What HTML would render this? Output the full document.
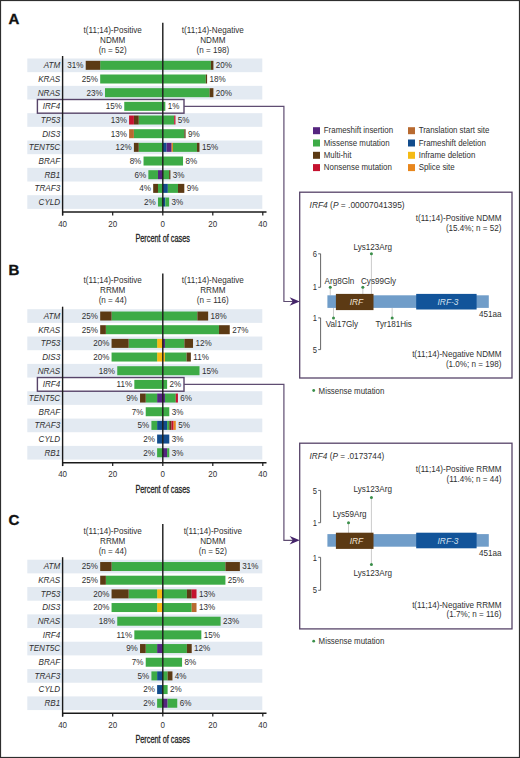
<!DOCTYPE html>
<html><head><meta charset="utf-8"><style>
html,body{margin:0;padding:0;background:#fff;}
body{width:520px;height:758px;overflow:hidden;}
svg{display:block;font-family:"Liberation Sans", sans-serif;}

</style></head><body>
<svg width="520" height="758" viewBox="0 0 520 758">
<rect x="0" y="0" width="520" height="758" fill="#fff"/>
<text x="8.4" y="23.80" font-size="15" font-weight="bold" fill="#111" stroke="#111" stroke-width="0.35">A</text>
<text x="112.70" y="32.60" font-size="8.75" text-anchor="middle" fill="#303030" textLength="58.33" lengthAdjust="spacingAndGlyphs">t(11;14)-Positive</text>
<text x="112.70" y="42.60" font-size="8.75" text-anchor="middle" fill="#303030" textLength="25.19" lengthAdjust="spacingAndGlyphs">NDMM</text>
<text x="112.70" y="52.60" font-size="8.75" text-anchor="middle" fill="#303030" textLength="28.12" lengthAdjust="spacingAndGlyphs">(n = 52)</text>
<text x="212.80" y="32.60" font-size="8.75" text-anchor="middle" fill="#303030" textLength="61.94" lengthAdjust="spacingAndGlyphs">t(11;14)-Negative</text>
<text x="212.80" y="42.60" font-size="8.75" text-anchor="middle" fill="#303030" textLength="25.19" lengthAdjust="spacingAndGlyphs">NDMM</text>
<text x="212.80" y="52.60" font-size="8.75" text-anchor="middle" fill="#303030" textLength="32.62" lengthAdjust="spacingAndGlyphs">(n = 198)</text>
<rect x="27.30" y="58.50" width="235.00" height="13.67" fill="#e3eaf2"/>
<rect x="27.30" y="85.84" width="235.00" height="13.67" fill="#e3eaf2"/>
<rect x="27.30" y="113.18" width="235.00" height="13.67" fill="#e3eaf2"/>
<rect x="27.30" y="140.52" width="235.00" height="13.67" fill="#e3eaf2"/>
<rect x="27.30" y="167.86" width="235.00" height="13.67" fill="#e3eaf2"/>
<rect x="27.30" y="195.20" width="235.00" height="13.67" fill="#e3eaf2"/>
<rect x="100.18" y="60.83" width="62.62" height="9.00" fill="#3dab46"/>
<rect x="85.72" y="60.83" width="14.45" height="9.00" fill="#5c3a14"/>
<text x="83.52" y="68.23" font-size="8.75" text-anchor="end" fill="#303030" textLength="16.20" lengthAdjust="spacingAndGlyphs">31%</text>
<rect x="162.80" y="60.83" width="48.08" height="9.00" fill="#3dab46"/>
<rect x="210.88" y="60.83" width="2.53" height="9.00" fill="#5c3a14"/>
<text x="215.81" y="68.23" font-size="8.75" text-anchor="start" fill="#303030" textLength="16.20" lengthAdjust="spacingAndGlyphs">20%</text>
<text x="60.20" y="68.23" font-size="8.75" text-anchor="end" fill="#303030" textLength="16.48" lengthAdjust="spacingAndGlyphs" font-style="italic">ATM</text>
<rect x="100.18" y="74.50" width="62.62" height="9.00" fill="#3dab46"/>
<text x="97.98" y="81.91" font-size="8.75" text-anchor="end" fill="#303030" textLength="16.20" lengthAdjust="spacingAndGlyphs">25%</text>
<rect x="162.80" y="74.50" width="43.02" height="9.00" fill="#3dab46"/>
<rect x="205.82" y="74.50" width="1.27" height="9.00" fill="#5c3a14"/>
<text x="209.48" y="81.91" font-size="8.75" text-anchor="start" fill="#303030" textLength="16.20" lengthAdjust="spacingAndGlyphs">18%</text>
<text x="60.20" y="81.91" font-size="8.75" text-anchor="end" fill="#303030" textLength="22.05" lengthAdjust="spacingAndGlyphs" font-style="italic">KRAS</text>
<rect x="104.99" y="88.17" width="57.81" height="9.00" fill="#3dab46"/>
<text x="102.79" y="95.58" font-size="8.75" text-anchor="end" fill="#303030" textLength="16.20" lengthAdjust="spacingAndGlyphs">23%</text>
<rect x="162.80" y="88.17" width="46.81" height="9.00" fill="#3dab46"/>
<rect x="209.61" y="88.17" width="3.80" height="9.00" fill="#5c3a14"/>
<text x="215.81" y="95.58" font-size="8.75" text-anchor="start" fill="#303030" textLength="16.20" lengthAdjust="spacingAndGlyphs">20%</text>
<text x="60.20" y="95.58" font-size="8.75" text-anchor="end" fill="#303030" textLength="22.50" lengthAdjust="spacingAndGlyphs" font-style="italic">NRAS</text>
<rect x="124.26" y="101.84" width="38.54" height="9.00" fill="#3dab46"/>
<text x="122.06" y="109.24" font-size="8.75" text-anchor="end" fill="#303030" textLength="16.20" lengthAdjust="spacingAndGlyphs">15%</text>
<rect x="162.80" y="101.84" width="2.53" height="9.00" fill="#3dab46"/>
<text x="167.73" y="109.24" font-size="8.75" text-anchor="start" fill="#303030" textLength="11.70" lengthAdjust="spacingAndGlyphs">1%</text>
<text x="60.20" y="109.24" font-size="8.75" text-anchor="end" fill="#303030" textLength="17.55" lengthAdjust="spacingAndGlyphs" font-style="italic">IRF4</text>
<rect x="138.71" y="115.52" width="24.09" height="9.00" fill="#3dab46"/>
<rect x="133.90" y="115.52" width="4.82" height="9.00" fill="#5c3a14"/>
<rect x="129.08" y="115.52" width="4.82" height="9.00" fill="#c5122f"/>
<text x="126.88" y="122.92" font-size="8.75" text-anchor="end" fill="#303030" textLength="16.20" lengthAdjust="spacingAndGlyphs">13%</text>
<rect x="162.80" y="115.52" width="11.39" height="9.00" fill="#3dab46"/>
<rect x="174.19" y="115.52" width="1.27" height="9.00" fill="#c5122f"/>
<text x="177.85" y="122.92" font-size="8.75" text-anchor="start" fill="#303030" textLength="11.70" lengthAdjust="spacingAndGlyphs">5%</text>
<text x="60.20" y="122.92" font-size="8.75" text-anchor="end" fill="#303030" textLength="19.36" lengthAdjust="spacingAndGlyphs" font-style="italic">TP53</text>
<rect x="133.90" y="129.19" width="28.90" height="9.00" fill="#3dab46"/>
<rect x="129.08" y="129.19" width="4.82" height="9.00" fill="#b86a30"/>
<text x="126.88" y="136.59" font-size="8.75" text-anchor="end" fill="#303030" textLength="16.20" lengthAdjust="spacingAndGlyphs">13%</text>
<rect x="162.80" y="129.19" width="21.51" height="9.00" fill="#3dab46"/>
<rect x="184.31" y="129.19" width="1.27" height="9.00" fill="#5c3a14"/>
<text x="187.97" y="136.59" font-size="8.75" text-anchor="start" fill="#303030" textLength="11.70" lengthAdjust="spacingAndGlyphs">9%</text>
<text x="60.20" y="136.59" font-size="8.75" text-anchor="end" fill="#303030" textLength="18.00" lengthAdjust="spacingAndGlyphs" font-style="italic">DIS3</text>
<rect x="138.71" y="142.85" width="24.09" height="9.00" fill="#3dab46"/>
<rect x="133.90" y="142.85" width="4.82" height="9.00" fill="#5c3a14"/>
<text x="131.70" y="150.25" font-size="8.75" text-anchor="end" fill="#303030" textLength="16.20" lengthAdjust="spacingAndGlyphs">12%</text>
<rect x="162.80" y="142.85" width="3.80" height="9.00" fill="#124c8c"/>
<rect x="166.60" y="142.85" width="5.06" height="9.00" fill="#55257f"/>
<rect x="171.66" y="142.85" width="1.27" height="9.00" fill="#e8861c"/>
<rect x="172.92" y="142.85" width="24.04" height="9.00" fill="#3dab46"/>
<rect x="196.96" y="142.85" width="2.53" height="9.00" fill="#5c3a14"/>
<text x="201.89" y="150.25" font-size="8.75" text-anchor="start" fill="#303030" textLength="16.20" lengthAdjust="spacingAndGlyphs">15%</text>
<text x="60.20" y="150.25" font-size="8.75" text-anchor="end" fill="#303030" textLength="31.48" lengthAdjust="spacingAndGlyphs" font-style="italic">TENT5C</text>
<rect x="143.53" y="156.53" width="19.27" height="9.00" fill="#3dab46"/>
<text x="141.33" y="163.93" font-size="8.75" text-anchor="end" fill="#303030" textLength="11.70" lengthAdjust="spacingAndGlyphs">8%</text>
<rect x="162.80" y="156.53" width="20.24" height="9.00" fill="#3dab46"/>
<text x="185.44" y="163.93" font-size="8.75" text-anchor="start" fill="#303030" textLength="11.70" lengthAdjust="spacingAndGlyphs">8%</text>
<text x="60.20" y="163.93" font-size="8.75" text-anchor="end" fill="#303030" textLength="21.59" lengthAdjust="spacingAndGlyphs" font-style="italic">BRAF</text>
<rect x="157.98" y="170.20" width="4.82" height="9.00" fill="#55257f"/>
<rect x="148.35" y="170.20" width="9.63" height="9.00" fill="#3dab46"/>
<text x="146.15" y="177.60" font-size="8.75" text-anchor="end" fill="#303030" textLength="11.70" lengthAdjust="spacingAndGlyphs">6%</text>
<rect x="162.80" y="170.20" width="6.33" height="9.00" fill="#3dab46"/>
<rect x="169.13" y="170.20" width="1.27" height="9.00" fill="#5c3a14"/>
<text x="172.79" y="177.60" font-size="8.75" text-anchor="start" fill="#303030" textLength="11.70" lengthAdjust="spacingAndGlyphs">3%</text>
<text x="60.20" y="177.60" font-size="8.75" text-anchor="end" fill="#303030" textLength="15.75" lengthAdjust="spacingAndGlyphs" font-style="italic">RB1</text>
<rect x="157.98" y="183.87" width="4.82" height="9.00" fill="#3dab46"/>
<rect x="153.17" y="183.87" width="4.82" height="9.00" fill="#5c3a14"/>
<text x="150.97" y="191.27" font-size="8.75" text-anchor="end" fill="#303030" textLength="11.70" lengthAdjust="spacingAndGlyphs">4%</text>
<rect x="162.80" y="183.87" width="5.06" height="9.00" fill="#124c8c"/>
<rect x="167.86" y="183.87" width="10.12" height="9.00" fill="#3dab46"/>
<rect x="177.98" y="183.87" width="6.33" height="9.00" fill="#5c3a14"/>
<text x="186.71" y="191.27" font-size="8.75" text-anchor="start" fill="#303030" textLength="11.70" lengthAdjust="spacingAndGlyphs">9%</text>
<text x="60.20" y="191.27" font-size="8.75" text-anchor="end" fill="#303030" textLength="25.64" lengthAdjust="spacingAndGlyphs" font-style="italic">TRAF3</text>
<rect x="157.98" y="197.53" width="4.82" height="9.00" fill="#3dab46"/>
<text x="155.78" y="204.94" font-size="8.75" text-anchor="end" fill="#303030" textLength="11.70" lengthAdjust="spacingAndGlyphs">2%</text>
<rect x="162.80" y="197.53" width="2.53" height="9.00" fill="#124c8c"/>
<rect x="165.33" y="197.53" width="3.80" height="9.00" fill="#3dab46"/>
<text x="171.53" y="204.94" font-size="8.75" text-anchor="start" fill="#303030" textLength="11.70" lengthAdjust="spacingAndGlyphs">3%</text>
<text x="60.20" y="204.94" font-size="8.75" text-anchor="end" fill="#303030" textLength="21.59" lengthAdjust="spacingAndGlyphs" font-style="italic">CYLD</text>
<rect x="37.4" y="99.51" width="146.60" height="13.67" fill="none" stroke="#574469" stroke-width="1.4"/>
<line x1="62.60" y1="56.00" x2="62.60" y2="215.40" stroke="#1a1a1a" stroke-width="1.4"/>
<line x1="162.80" y1="22.70" x2="162.80" y2="212.00" stroke="#1a1a1a" stroke-width="1.4"/>
<line x1="62.00" y1="212.00" x2="266.50" y2="212.00" stroke="#1a1a1a" stroke-width="1.4"/>
<line x1="62.60" y1="212.00" x2="62.60" y2="215.40" stroke="#1a1a1a" stroke-width="1.2"/>
<text x="62.60" y="226.60" font-size="8.64" text-anchor="middle" fill="#303030" textLength="8.91" lengthAdjust="spacingAndGlyphs">40</text>
<line x1="112.70" y1="212.00" x2="112.70" y2="215.40" stroke="#1a1a1a" stroke-width="1.2"/>
<text x="112.70" y="226.60" font-size="8.64" text-anchor="middle" fill="#303030" textLength="8.91" lengthAdjust="spacingAndGlyphs">20</text>
<line x1="162.80" y1="212.00" x2="162.80" y2="215.40" stroke="#1a1a1a" stroke-width="1.2"/>
<text x="162.80" y="226.60" font-size="8.64" text-anchor="middle" fill="#303030" textLength="4.45" lengthAdjust="spacingAndGlyphs">0</text>
<line x1="212.80" y1="212.00" x2="212.80" y2="215.40" stroke="#1a1a1a" stroke-width="1.2"/>
<text x="212.80" y="226.60" font-size="8.64" text-anchor="middle" fill="#303030" textLength="8.91" lengthAdjust="spacingAndGlyphs">20</text>
<line x1="262.80" y1="212.00" x2="262.80" y2="215.40" stroke="#1a1a1a" stroke-width="1.2"/>
<text x="262.80" y="226.60" font-size="8.64" text-anchor="middle" fill="#303030" textLength="8.91" lengthAdjust="spacingAndGlyphs">40</text>
<text x="135.40" y="242.10" font-size="10" text-anchor="start" fill="#222" textLength="54.5" lengthAdjust="spacingAndGlyphs" stroke="#222" stroke-width="0.3">Percent of cases</text>
<text x="8.4" y="274.50" font-size="15" font-weight="bold" fill="#111" stroke="#111" stroke-width="0.35">B</text>
<text x="112.70" y="283.30" font-size="8.75" text-anchor="middle" fill="#303030" textLength="58.33" lengthAdjust="spacingAndGlyphs">t(11;14)-Positive</text>
<text x="112.70" y="293.30" font-size="8.75" text-anchor="middle" fill="#303030" textLength="25.19" lengthAdjust="spacingAndGlyphs">RRMM</text>
<text x="112.70" y="303.30" font-size="8.75" text-anchor="middle" fill="#303030" textLength="28.12" lengthAdjust="spacingAndGlyphs">(n = 44)</text>
<text x="212.80" y="283.30" font-size="8.75" text-anchor="middle" fill="#303030" textLength="61.94" lengthAdjust="spacingAndGlyphs">t(11;14)-Negative</text>
<text x="212.80" y="293.30" font-size="8.75" text-anchor="middle" fill="#303030" textLength="25.19" lengthAdjust="spacingAndGlyphs">RRMM</text>
<text x="212.80" y="303.30" font-size="8.75" text-anchor="middle" fill="#303030" textLength="32.03" lengthAdjust="spacingAndGlyphs">(n = 116)</text>
<rect x="27.30" y="309.20" width="235.00" height="13.67" fill="#e3eaf2"/>
<rect x="27.30" y="336.54" width="235.00" height="13.67" fill="#e3eaf2"/>
<rect x="27.30" y="363.88" width="235.00" height="13.67" fill="#e3eaf2"/>
<rect x="27.30" y="391.22" width="235.00" height="13.67" fill="#e3eaf2"/>
<rect x="27.30" y="418.56" width="235.00" height="13.67" fill="#e3eaf2"/>
<rect x="27.30" y="445.90" width="235.00" height="13.67" fill="#e3eaf2"/>
<rect x="111.56" y="311.53" width="51.24" height="9.00" fill="#3dab46"/>
<rect x="100.18" y="311.53" width="11.39" height="9.00" fill="#5c3a14"/>
<text x="97.98" y="318.93" font-size="8.75" text-anchor="end" fill="#303030" textLength="16.20" lengthAdjust="spacingAndGlyphs">25%</text>
<rect x="162.80" y="311.53" width="34.55" height="9.00" fill="#3dab46"/>
<rect x="197.35" y="311.53" width="10.80" height="9.00" fill="#5c3a14"/>
<text x="210.55" y="318.93" font-size="8.75" text-anchor="start" fill="#303030" textLength="16.20" lengthAdjust="spacingAndGlyphs">18%</text>
<text x="60.20" y="318.93" font-size="8.75" text-anchor="end" fill="#303030" textLength="16.48" lengthAdjust="spacingAndGlyphs" font-style="italic">ATM</text>
<rect x="105.87" y="325.20" width="56.93" height="9.00" fill="#3dab46"/>
<rect x="100.18" y="325.20" width="5.69" height="9.00" fill="#5c3a14"/>
<text x="97.98" y="332.60" font-size="8.75" text-anchor="end" fill="#303030" textLength="16.20" lengthAdjust="spacingAndGlyphs">25%</text>
<rect x="162.80" y="325.20" width="56.15" height="9.00" fill="#3dab46"/>
<rect x="218.95" y="325.20" width="10.80" height="9.00" fill="#5c3a14"/>
<text x="232.14" y="332.60" font-size="8.75" text-anchor="start" fill="#303030" textLength="16.20" lengthAdjust="spacingAndGlyphs">27%</text>
<text x="60.20" y="332.60" font-size="8.75" text-anchor="end" fill="#303030" textLength="22.05" lengthAdjust="spacingAndGlyphs" font-style="italic">KRAS</text>
<rect x="157.11" y="338.88" width="5.69" height="9.00" fill="#f5bb14"/>
<rect x="128.64" y="338.88" width="28.47" height="9.00" fill="#3dab46"/>
<rect x="111.56" y="338.88" width="17.08" height="9.00" fill="#5c3a14"/>
<text x="109.36" y="346.27" font-size="8.75" text-anchor="end" fill="#303030" textLength="16.20" lengthAdjust="spacingAndGlyphs">20%</text>
<rect x="162.80" y="338.88" width="2.16" height="9.00" fill="#55257f"/>
<rect x="164.96" y="338.88" width="19.44" height="9.00" fill="#3dab46"/>
<rect x="184.39" y="338.88" width="8.64" height="9.00" fill="#5c3a14"/>
<text x="195.43" y="346.27" font-size="8.75" text-anchor="start" fill="#303030" textLength="16.20" lengthAdjust="spacingAndGlyphs">12%</text>
<text x="60.20" y="346.27" font-size="8.75" text-anchor="end" fill="#303030" textLength="19.36" lengthAdjust="spacingAndGlyphs" font-style="italic">TP53</text>
<rect x="157.11" y="352.54" width="5.69" height="9.00" fill="#f5bb14"/>
<rect x="111.56" y="352.54" width="45.55" height="9.00" fill="#3dab46"/>
<text x="109.36" y="359.94" font-size="8.75" text-anchor="end" fill="#303030" textLength="16.20" lengthAdjust="spacingAndGlyphs">20%</text>
<rect x="162.80" y="352.54" width="2.16" height="9.00" fill="#f5bb14"/>
<rect x="164.96" y="352.54" width="21.59" height="9.00" fill="#3dab46"/>
<rect x="186.55" y="352.54" width="4.32" height="9.00" fill="#5c3a14"/>
<text x="193.27" y="359.94" font-size="8.75" text-anchor="start" fill="#303030" textLength="15.61" lengthAdjust="spacingAndGlyphs">11%</text>
<text x="60.20" y="359.94" font-size="8.75" text-anchor="end" fill="#303030" textLength="18.00" lengthAdjust="spacingAndGlyphs" font-style="italic">DIS3</text>
<rect x="117.25" y="366.21" width="45.55" height="9.00" fill="#3dab46"/>
<text x="115.05" y="373.61" font-size="8.75" text-anchor="end" fill="#303030" textLength="16.20" lengthAdjust="spacingAndGlyphs">18%</text>
<rect x="162.80" y="366.21" width="36.71" height="9.00" fill="#3dab46"/>
<text x="201.91" y="373.61" font-size="8.75" text-anchor="start" fill="#303030" textLength="16.20" lengthAdjust="spacingAndGlyphs">15%</text>
<text x="60.20" y="373.61" font-size="8.75" text-anchor="end" fill="#303030" textLength="22.50" lengthAdjust="spacingAndGlyphs" font-style="italic">NRAS</text>
<rect x="134.33" y="379.88" width="28.47" height="9.00" fill="#3dab46"/>
<text x="132.13" y="387.28" font-size="8.75" text-anchor="end" fill="#303030" textLength="15.61" lengthAdjust="spacingAndGlyphs">11%</text>
<rect x="162.80" y="379.88" width="4.32" height="9.00" fill="#3dab46"/>
<text x="169.52" y="387.28" font-size="8.75" text-anchor="start" fill="#303030" textLength="11.70" lengthAdjust="spacingAndGlyphs">2%</text>
<text x="60.20" y="387.28" font-size="8.75" text-anchor="end" fill="#303030" textLength="17.55" lengthAdjust="spacingAndGlyphs" font-style="italic">IRF4</text>
<rect x="157.11" y="393.55" width="5.69" height="9.00" fill="#55257f"/>
<rect x="145.72" y="393.55" width="11.39" height="9.00" fill="#3dab46"/>
<rect x="140.03" y="393.55" width="5.69" height="9.00" fill="#5c3a14"/>
<text x="137.83" y="400.95" font-size="8.75" text-anchor="end" fill="#303030" textLength="11.70" lengthAdjust="spacingAndGlyphs">9%</text>
<rect x="162.80" y="393.55" width="2.16" height="9.00" fill="#55257f"/>
<rect x="164.96" y="393.55" width="10.80" height="9.00" fill="#3dab46"/>
<rect x="175.76" y="393.55" width="2.16" height="9.00" fill="#c5122f"/>
<text x="180.32" y="400.95" font-size="8.75" text-anchor="start" fill="#303030" textLength="11.70" lengthAdjust="spacingAndGlyphs">6%</text>
<text x="60.20" y="400.95" font-size="8.75" text-anchor="end" fill="#303030" textLength="31.48" lengthAdjust="spacingAndGlyphs" font-style="italic">TENT5C</text>
<rect x="145.72" y="407.23" width="17.08" height="9.00" fill="#3dab46"/>
<text x="143.52" y="414.62" font-size="8.75" text-anchor="end" fill="#303030" textLength="11.70" lengthAdjust="spacingAndGlyphs">7%</text>
<rect x="162.80" y="407.23" width="6.48" height="9.00" fill="#3dab46"/>
<text x="171.68" y="414.62" font-size="8.75" text-anchor="start" fill="#303030" textLength="11.70" lengthAdjust="spacingAndGlyphs">3%</text>
<text x="60.20" y="414.62" font-size="8.75" text-anchor="end" fill="#303030" textLength="21.59" lengthAdjust="spacingAndGlyphs" font-style="italic">BRAF</text>
<rect x="157.11" y="420.89" width="5.69" height="9.00" fill="#124c8c"/>
<rect x="151.41" y="420.89" width="5.69" height="9.00" fill="#3dab46"/>
<text x="149.21" y="428.29" font-size="8.75" text-anchor="end" fill="#303030" textLength="11.70" lengthAdjust="spacingAndGlyphs">5%</text>
<rect x="162.80" y="420.89" width="4.32" height="9.00" fill="#124c8c"/>
<rect x="167.12" y="420.89" width="2.16" height="9.00" fill="#3dab46"/>
<rect x="169.28" y="420.89" width="2.16" height="9.00" fill="#5c3a14"/>
<rect x="171.44" y="420.89" width="2.16" height="9.00" fill="#c5122f"/>
<rect x="173.60" y="420.89" width="2.16" height="9.00" fill="#e8861c"/>
<text x="178.16" y="428.29" font-size="8.75" text-anchor="start" fill="#303030" textLength="11.70" lengthAdjust="spacingAndGlyphs">5%</text>
<text x="60.20" y="428.29" font-size="8.75" text-anchor="end" fill="#303030" textLength="25.64" lengthAdjust="spacingAndGlyphs" font-style="italic">TRAF3</text>
<rect x="157.11" y="434.56" width="5.69" height="9.00" fill="#124c8c"/>
<text x="154.91" y="441.96" font-size="8.75" text-anchor="end" fill="#303030" textLength="11.70" lengthAdjust="spacingAndGlyphs">2%</text>
<rect x="162.80" y="434.56" width="6.48" height="9.00" fill="#124c8c"/>
<text x="171.68" y="441.96" font-size="8.75" text-anchor="start" fill="#303030" textLength="11.70" lengthAdjust="spacingAndGlyphs">3%</text>
<text x="60.20" y="441.96" font-size="8.75" text-anchor="end" fill="#303030" textLength="21.59" lengthAdjust="spacingAndGlyphs" font-style="italic">CYLD</text>
<rect x="157.11" y="448.24" width="5.69" height="9.00" fill="#3dab46"/>
<text x="154.91" y="455.63" font-size="8.75" text-anchor="end" fill="#303030" textLength="11.70" lengthAdjust="spacingAndGlyphs">2%</text>
<rect x="162.80" y="448.24" width="4.32" height="9.00" fill="#55257f"/>
<rect x="167.12" y="448.24" width="2.16" height="9.00" fill="#3dab46"/>
<text x="171.68" y="455.63" font-size="8.75" text-anchor="start" fill="#303030" textLength="11.70" lengthAdjust="spacingAndGlyphs">3%</text>
<text x="60.20" y="455.63" font-size="8.75" text-anchor="end" fill="#303030" textLength="15.75" lengthAdjust="spacingAndGlyphs" font-style="italic">RB1</text>
<rect x="37.4" y="377.55" width="146.60" height="13.67" fill="none" stroke="#574469" stroke-width="1.4"/>
<line x1="62.60" y1="306.70" x2="62.60" y2="466.10" stroke="#1a1a1a" stroke-width="1.4"/>
<line x1="162.80" y1="273.40" x2="162.80" y2="462.70" stroke="#1a1a1a" stroke-width="1.4"/>
<line x1="62.00" y1="462.70" x2="266.50" y2="462.70" stroke="#1a1a1a" stroke-width="1.4"/>
<line x1="62.60" y1="462.70" x2="62.60" y2="466.10" stroke="#1a1a1a" stroke-width="1.2"/>
<text x="62.60" y="477.30" font-size="8.64" text-anchor="middle" fill="#303030" textLength="8.91" lengthAdjust="spacingAndGlyphs">40</text>
<line x1="112.70" y1="462.70" x2="112.70" y2="466.10" stroke="#1a1a1a" stroke-width="1.2"/>
<text x="112.70" y="477.30" font-size="8.64" text-anchor="middle" fill="#303030" textLength="8.91" lengthAdjust="spacingAndGlyphs">20</text>
<line x1="162.80" y1="462.70" x2="162.80" y2="466.10" stroke="#1a1a1a" stroke-width="1.2"/>
<text x="162.80" y="477.30" font-size="8.64" text-anchor="middle" fill="#303030" textLength="4.45" lengthAdjust="spacingAndGlyphs">0</text>
<line x1="212.80" y1="462.70" x2="212.80" y2="466.10" stroke="#1a1a1a" stroke-width="1.2"/>
<text x="212.80" y="477.30" font-size="8.64" text-anchor="middle" fill="#303030" textLength="8.91" lengthAdjust="spacingAndGlyphs">20</text>
<line x1="262.80" y1="462.70" x2="262.80" y2="466.10" stroke="#1a1a1a" stroke-width="1.2"/>
<text x="262.80" y="477.30" font-size="8.64" text-anchor="middle" fill="#303030" textLength="8.91" lengthAdjust="spacingAndGlyphs">40</text>
<text x="135.40" y="492.80" font-size="10" text-anchor="start" fill="#222" textLength="54.5" lengthAdjust="spacingAndGlyphs" stroke="#222" stroke-width="0.3">Percent of cases</text>
<text x="8.4" y="525.00" font-size="15" font-weight="bold" fill="#111" stroke="#111" stroke-width="0.35">C</text>
<text x="112.70" y="533.80" font-size="8.75" text-anchor="middle" fill="#303030" textLength="58.33" lengthAdjust="spacingAndGlyphs">t(11;14)-Positive</text>
<text x="112.70" y="543.80" font-size="8.75" text-anchor="middle" fill="#303030" textLength="25.19" lengthAdjust="spacingAndGlyphs">RRMM</text>
<text x="112.70" y="553.80" font-size="8.75" text-anchor="middle" fill="#303030" textLength="28.12" lengthAdjust="spacingAndGlyphs">(n = 44)</text>
<text x="212.80" y="533.80" font-size="8.75" text-anchor="middle" fill="#303030" textLength="58.33" lengthAdjust="spacingAndGlyphs">t(11;14)-Positive</text>
<text x="212.80" y="543.80" font-size="8.75" text-anchor="middle" fill="#303030" textLength="25.19" lengthAdjust="spacingAndGlyphs">NDMM</text>
<text x="212.80" y="553.80" font-size="8.75" text-anchor="middle" fill="#303030" textLength="28.12" lengthAdjust="spacingAndGlyphs">(n = 52)</text>
<rect x="27.30" y="559.70" width="235.00" height="13.67" fill="#e3eaf2"/>
<rect x="27.30" y="587.04" width="235.00" height="13.67" fill="#e3eaf2"/>
<rect x="27.30" y="614.38" width="235.00" height="13.67" fill="#e3eaf2"/>
<rect x="27.30" y="641.72" width="235.00" height="13.67" fill="#e3eaf2"/>
<rect x="27.30" y="669.06" width="235.00" height="13.67" fill="#e3eaf2"/>
<rect x="27.30" y="696.40" width="235.00" height="13.67" fill="#e3eaf2"/>
<rect x="111.56" y="562.03" width="51.24" height="9.00" fill="#3dab46"/>
<rect x="100.18" y="562.03" width="11.39" height="9.00" fill="#5c3a14"/>
<text x="97.98" y="569.43" font-size="8.75" text-anchor="end" fill="#303030" textLength="16.20" lengthAdjust="spacingAndGlyphs">25%</text>
<rect x="162.80" y="562.03" width="62.62" height="9.00" fill="#3dab46"/>
<rect x="225.43" y="562.03" width="14.45" height="9.00" fill="#5c3a14"/>
<text x="242.28" y="569.43" font-size="8.75" text-anchor="start" fill="#303030" textLength="16.20" lengthAdjust="spacingAndGlyphs">31%</text>
<text x="60.20" y="569.43" font-size="8.75" text-anchor="end" fill="#303030" textLength="16.48" lengthAdjust="spacingAndGlyphs" font-style="italic">ATM</text>
<rect x="105.87" y="575.70" width="56.93" height="9.00" fill="#3dab46"/>
<rect x="100.18" y="575.70" width="5.69" height="9.00" fill="#5c3a14"/>
<text x="97.98" y="583.10" font-size="8.75" text-anchor="end" fill="#303030" textLength="16.20" lengthAdjust="spacingAndGlyphs">25%</text>
<rect x="162.80" y="575.70" width="62.62" height="9.00" fill="#3dab46"/>
<text x="227.83" y="583.10" font-size="8.75" text-anchor="start" fill="#303030" textLength="16.20" lengthAdjust="spacingAndGlyphs">25%</text>
<text x="60.20" y="583.10" font-size="8.75" text-anchor="end" fill="#303030" textLength="22.05" lengthAdjust="spacingAndGlyphs" font-style="italic">KRAS</text>
<rect x="157.11" y="589.38" width="5.69" height="9.00" fill="#f5bb14"/>
<rect x="128.64" y="589.38" width="28.47" height="9.00" fill="#3dab46"/>
<rect x="111.56" y="589.38" width="17.08" height="9.00" fill="#5c3a14"/>
<text x="109.36" y="596.77" font-size="8.75" text-anchor="end" fill="#303030" textLength="16.20" lengthAdjust="spacingAndGlyphs">20%</text>
<rect x="162.80" y="589.38" width="24.09" height="9.00" fill="#3dab46"/>
<rect x="186.89" y="589.38" width="4.82" height="9.00" fill="#5c3a14"/>
<rect x="191.70" y="589.38" width="4.82" height="9.00" fill="#c5122f"/>
<text x="198.92" y="596.77" font-size="8.75" text-anchor="start" fill="#303030" textLength="16.20" lengthAdjust="spacingAndGlyphs">13%</text>
<text x="60.20" y="596.77" font-size="8.75" text-anchor="end" fill="#303030" textLength="19.36" lengthAdjust="spacingAndGlyphs" font-style="italic">TP53</text>
<rect x="157.11" y="603.04" width="5.69" height="9.00" fill="#f5bb14"/>
<rect x="111.56" y="603.04" width="45.55" height="9.00" fill="#3dab46"/>
<text x="109.36" y="610.44" font-size="8.75" text-anchor="end" fill="#303030" textLength="16.20" lengthAdjust="spacingAndGlyphs">20%</text>
<rect x="162.80" y="603.04" width="28.90" height="9.00" fill="#3dab46"/>
<rect x="191.70" y="603.04" width="4.82" height="9.00" fill="#b86a30"/>
<text x="198.92" y="610.44" font-size="8.75" text-anchor="start" fill="#303030" textLength="16.20" lengthAdjust="spacingAndGlyphs">13%</text>
<text x="60.20" y="610.44" font-size="8.75" text-anchor="end" fill="#303030" textLength="18.00" lengthAdjust="spacingAndGlyphs" font-style="italic">DIS3</text>
<rect x="117.25" y="616.72" width="45.55" height="9.00" fill="#3dab46"/>
<text x="115.05" y="624.12" font-size="8.75" text-anchor="end" fill="#303030" textLength="16.20" lengthAdjust="spacingAndGlyphs">18%</text>
<rect x="162.80" y="616.72" width="57.81" height="9.00" fill="#3dab46"/>
<text x="223.01" y="624.12" font-size="8.75" text-anchor="start" fill="#303030" textLength="16.20" lengthAdjust="spacingAndGlyphs">23%</text>
<text x="60.20" y="624.12" font-size="8.75" text-anchor="end" fill="#303030" textLength="22.50" lengthAdjust="spacingAndGlyphs" font-style="italic">NRAS</text>
<rect x="134.33" y="630.38" width="28.47" height="9.00" fill="#3dab46"/>
<text x="132.13" y="637.78" font-size="8.75" text-anchor="end" fill="#303030" textLength="15.61" lengthAdjust="spacingAndGlyphs">11%</text>
<rect x="162.80" y="630.38" width="38.54" height="9.00" fill="#3dab46"/>
<text x="203.74" y="637.78" font-size="8.75" text-anchor="start" fill="#303030" textLength="16.20" lengthAdjust="spacingAndGlyphs">15%</text>
<text x="60.20" y="637.78" font-size="8.75" text-anchor="end" fill="#303030" textLength="17.55" lengthAdjust="spacingAndGlyphs" font-style="italic">IRF4</text>
<rect x="157.11" y="644.05" width="5.69" height="9.00" fill="#55257f"/>
<rect x="145.72" y="644.05" width="11.39" height="9.00" fill="#3dab46"/>
<rect x="140.03" y="644.05" width="5.69" height="9.00" fill="#5c3a14"/>
<text x="137.83" y="651.45" font-size="8.75" text-anchor="end" fill="#303030" textLength="11.70" lengthAdjust="spacingAndGlyphs">9%</text>
<rect x="162.80" y="644.05" width="24.09" height="9.00" fill="#3dab46"/>
<rect x="186.89" y="644.05" width="4.82" height="9.00" fill="#5c3a14"/>
<text x="194.10" y="651.45" font-size="8.75" text-anchor="start" fill="#303030" textLength="16.20" lengthAdjust="spacingAndGlyphs">12%</text>
<text x="60.20" y="651.45" font-size="8.75" text-anchor="end" fill="#303030" textLength="31.48" lengthAdjust="spacingAndGlyphs" font-style="italic">TENT5C</text>
<rect x="145.72" y="657.73" width="17.08" height="9.00" fill="#3dab46"/>
<text x="143.52" y="665.12" font-size="8.75" text-anchor="end" fill="#303030" textLength="11.70" lengthAdjust="spacingAndGlyphs">7%</text>
<rect x="162.80" y="657.73" width="19.27" height="9.00" fill="#3dab46"/>
<text x="184.47" y="665.12" font-size="8.75" text-anchor="start" fill="#303030" textLength="11.70" lengthAdjust="spacingAndGlyphs">8%</text>
<text x="60.20" y="665.12" font-size="8.75" text-anchor="end" fill="#303030" textLength="21.59" lengthAdjust="spacingAndGlyphs" font-style="italic">BRAF</text>
<rect x="157.11" y="671.39" width="5.69" height="9.00" fill="#124c8c"/>
<rect x="151.41" y="671.39" width="5.69" height="9.00" fill="#3dab46"/>
<text x="149.21" y="678.79" font-size="8.75" text-anchor="end" fill="#303030" textLength="11.70" lengthAdjust="spacingAndGlyphs">5%</text>
<rect x="162.80" y="671.39" width="4.82" height="9.00" fill="#3dab46"/>
<rect x="167.62" y="671.39" width="4.82" height="9.00" fill="#5c3a14"/>
<text x="174.83" y="678.79" font-size="8.75" text-anchor="start" fill="#303030" textLength="11.70" lengthAdjust="spacingAndGlyphs">4%</text>
<text x="60.20" y="678.79" font-size="8.75" text-anchor="end" fill="#303030" textLength="25.64" lengthAdjust="spacingAndGlyphs" font-style="italic">TRAF3</text>
<rect x="157.11" y="685.07" width="5.69" height="9.00" fill="#124c8c"/>
<text x="154.91" y="692.47" font-size="8.75" text-anchor="end" fill="#303030" textLength="11.70" lengthAdjust="spacingAndGlyphs">2%</text>
<rect x="162.80" y="685.07" width="4.82" height="9.00" fill="#3dab46"/>
<text x="170.02" y="692.47" font-size="8.75" text-anchor="start" fill="#303030" textLength="11.70" lengthAdjust="spacingAndGlyphs">2%</text>
<text x="60.20" y="692.47" font-size="8.75" text-anchor="end" fill="#303030" textLength="21.59" lengthAdjust="spacingAndGlyphs" font-style="italic">CYLD</text>
<rect x="157.11" y="698.74" width="5.69" height="9.00" fill="#3dab46"/>
<text x="154.91" y="706.13" font-size="8.75" text-anchor="end" fill="#303030" textLength="11.70" lengthAdjust="spacingAndGlyphs">2%</text>
<rect x="162.80" y="698.74" width="4.82" height="9.00" fill="#55257f"/>
<rect x="167.62" y="698.74" width="9.63" height="9.00" fill="#3dab46"/>
<text x="179.65" y="706.13" font-size="8.75" text-anchor="start" fill="#303030" textLength="11.70" lengthAdjust="spacingAndGlyphs">6%</text>
<text x="60.20" y="706.13" font-size="8.75" text-anchor="end" fill="#303030" textLength="15.75" lengthAdjust="spacingAndGlyphs" font-style="italic">RB1</text>
<line x1="62.60" y1="557.20" x2="62.60" y2="716.60" stroke="#1a1a1a" stroke-width="1.4"/>
<line x1="162.80" y1="523.90" x2="162.80" y2="713.20" stroke="#1a1a1a" stroke-width="1.4"/>
<line x1="62.00" y1="713.20" x2="266.50" y2="713.20" stroke="#1a1a1a" stroke-width="1.4"/>
<line x1="62.60" y1="713.20" x2="62.60" y2="716.60" stroke="#1a1a1a" stroke-width="1.2"/>
<text x="62.60" y="727.80" font-size="8.64" text-anchor="middle" fill="#303030" textLength="8.91" lengthAdjust="spacingAndGlyphs">40</text>
<line x1="112.70" y1="713.20" x2="112.70" y2="716.60" stroke="#1a1a1a" stroke-width="1.2"/>
<text x="112.70" y="727.80" font-size="8.64" text-anchor="middle" fill="#303030" textLength="8.91" lengthAdjust="spacingAndGlyphs">20</text>
<line x1="162.80" y1="713.20" x2="162.80" y2="716.60" stroke="#1a1a1a" stroke-width="1.2"/>
<text x="162.80" y="727.80" font-size="8.64" text-anchor="middle" fill="#303030" textLength="4.45" lengthAdjust="spacingAndGlyphs">0</text>
<line x1="212.80" y1="713.20" x2="212.80" y2="716.60" stroke="#1a1a1a" stroke-width="1.2"/>
<text x="212.80" y="727.80" font-size="8.64" text-anchor="middle" fill="#303030" textLength="8.91" lengthAdjust="spacingAndGlyphs">20</text>
<line x1="262.80" y1="713.20" x2="262.80" y2="716.60" stroke="#1a1a1a" stroke-width="1.2"/>
<text x="262.80" y="727.80" font-size="8.64" text-anchor="middle" fill="#303030" textLength="8.91" lengthAdjust="spacingAndGlyphs">40</text>
<text x="135.40" y="743.30" font-size="10" text-anchor="start" fill="#222" textLength="54.5" lengthAdjust="spacingAndGlyphs" stroke="#222" stroke-width="0.3">Percent of cases</text>
<rect x="313.00" y="127.20" width="7.00" height="7.00" fill="#55257f"/>
<text x="323.80" y="133.40" font-size="8.53" text-anchor="start" fill="#303030" textLength="69.30" lengthAdjust="spacingAndGlyphs">Frameshift insertion</text>
<rect x="313.00" y="139.50" width="7.00" height="7.00" fill="#3dab46"/>
<text x="323.80" y="145.70" font-size="8.53" text-anchor="start" fill="#303030" textLength="65.80" lengthAdjust="spacingAndGlyphs">Missense mutation</text>
<rect x="313.00" y="151.80" width="7.00" height="7.00" fill="#5c3a14"/>
<text x="323.80" y="158.00" font-size="8.53" text-anchor="start" fill="#303030" textLength="27.62" lengthAdjust="spacingAndGlyphs">Multi-hit</text>
<rect x="313.00" y="164.10" width="7.00" height="7.00" fill="#c5122f"/>
<text x="323.80" y="170.30" font-size="8.53" text-anchor="start" fill="#303030" textLength="68.00" lengthAdjust="spacingAndGlyphs">Nonsense mutation</text>
<rect x="408.00" y="127.20" width="7.00" height="7.00" fill="#b86a30"/>
<text x="418.70" y="133.40" font-size="8.53" text-anchor="start" fill="#303030" textLength="70.75" lengthAdjust="spacingAndGlyphs">Translation start site</text>
<rect x="408.00" y="139.50" width="7.00" height="7.00" fill="#124c8c"/>
<text x="418.70" y="145.70" font-size="8.53" text-anchor="start" fill="#303030" textLength="67.11" lengthAdjust="spacingAndGlyphs">Frameshift deletion</text>
<rect x="408.00" y="151.80" width="7.00" height="7.00" fill="#f5bb14"/>
<text x="418.70" y="158.00" font-size="8.53" text-anchor="start" fill="#303030" textLength="56.59" lengthAdjust="spacingAndGlyphs">Inframe deletion</text>
<rect x="408.00" y="164.10" width="7.00" height="7.00" fill="#e8861c"/>
<text x="418.70" y="170.30" font-size="8.53" text-anchor="start" fill="#303030" textLength="35.97" lengthAdjust="spacingAndGlyphs">Splice site</text>
<polyline points="184.0,106.34 283.9,106.34 283.9,301.50 297,301.50" fill="none" stroke="#5f4d72" stroke-width="1.2"/>
<polygon points="299.8,301.50 289.6,297.30 292.8,301.50 289.6,305.70" fill="#45246a"/>
<rect x="299.7" y="192.20" width="212.30" height="185.80" fill="none" stroke="#574469" stroke-width="1.3"/>
<text x="309.6" y="208.30" font-size="8.7" fill="#303030" stroke="#303030" stroke-width="0" textLength="95.0" lengthAdjust="spacingAndGlyphs"><tspan font-style="italic">IRF4</tspan> (<tspan font-style="italic">P</tspan> = .00007041395)</text>
<text x="501.50" y="220.80" font-size="8.75" text-anchor="end" fill="#303030" textLength="85.77" lengthAdjust="spacingAndGlyphs">t(11;14)-Positive NDMM</text>
<text x="501.50" y="230.70" font-size="8.75" text-anchor="end" fill="#303030" textLength="55.58" lengthAdjust="spacingAndGlyphs">(15.4%; n = 52)</text>
<text x="501.50" y="357.30" font-size="8.75" text-anchor="end" fill="#303030" textLength="89.36" lengthAdjust="spacingAndGlyphs">t(11;14)-Negative NDMM</text>
<text x="501.50" y="366.50" font-size="8.75" text-anchor="end" fill="#303030" textLength="55.58" lengthAdjust="spacingAndGlyphs">(1.0%; n = 198)</text>
<line x1="371.42" y1="253.80" x2="371.42" y2="295.50" stroke="#a8a8a8" stroke-width="0.6"/>
<line x1="330.26" y1="287.30" x2="330.26" y2="295.50" stroke="#a8a8a8" stroke-width="0.6"/>
<line x1="362.83" y1="287.30" x2="362.83" y2="295.50" stroke="#a8a8a8" stroke-width="0.6"/>
<line x1="333.48" y1="307.50" x2="333.48" y2="317.90" stroke="#a8a8a8" stroke-width="0.6"/>
<line x1="392.17" y1="307.50" x2="392.17" y2="317.90" stroke="#a8a8a8" stroke-width="0.6"/>
<rect x="327.40" y="295.30" width="161.40" height="12.60" fill="#709dc9"/>
<rect x="335.90" y="293.90" width="37.60" height="16.20" fill="#5c3a14"/>
<rect x="416.20" y="293.90" width="60.40" height="15.60" fill="#12549a"/>
<text x="356.40" y="304.80" font-size="9.07" text-anchor="middle" fill="#f3e6d6" textLength="13.50" lengthAdjust="spacingAndGlyphs" font-style="italic">IRF</text>
<text x="448.00" y="304.80" font-size="9.07" text-anchor="middle" fill="#d5e2f0" textLength="20.94" lengthAdjust="spacingAndGlyphs" font-style="italic">IRF-3</text>
<text x="501.50" y="317.00" font-size="8.75" text-anchor="end" fill="#303030" textLength="22.52" lengthAdjust="spacingAndGlyphs">451aa</text>
<circle cx="371.42" cy="253.80" r="1.5" fill="#3b8f4a"/>
<text x="353.50" y="250.30" font-size="8.75" text-anchor="start" fill="#303030" textLength="38.41" lengthAdjust="spacingAndGlyphs">Lys123Arg</text>
<circle cx="330.26" cy="287.30" r="1.5" fill="#3b8f4a"/>
<text x="324.60" y="283.80" font-size="8.75" text-anchor="start" fill="#303030" textLength="29.70" lengthAdjust="spacingAndGlyphs">Arg8Gln</text>
<circle cx="362.83" cy="287.30" r="1.5" fill="#3b8f4a"/>
<text x="361.00" y="283.80" font-size="8.75" text-anchor="start" fill="#303030" textLength="35.09" lengthAdjust="spacingAndGlyphs">Cys99Gly</text>
<circle cx="333.48" cy="317.90" r="1.5" fill="#3b8f4a"/>
<text x="325.80" y="326.60" font-size="8.75" text-anchor="start" fill="#303030" textLength="32.25" lengthAdjust="spacingAndGlyphs">Val17Gly</text>
<circle cx="392.17" cy="317.90" r="1.5" fill="#3b8f4a"/>
<text x="375.40" y="326.60" font-size="8.75" text-anchor="start" fill="#303030" textLength="36.44" lengthAdjust="spacingAndGlyphs">Tyr181His</text>
<line x1="320.60" y1="253.80" x2="320.60" y2="287.30" stroke="#555" stroke-width="0.9"/>
<line x1="318.20" y1="253.80" x2="320.60" y2="253.80" stroke="#555" stroke-width="0.9"/>
<line x1="318.20" y1="287.30" x2="320.60" y2="287.30" stroke="#555" stroke-width="0.9"/>
<text x="317.00" y="257.10" font-size="8.21" text-anchor="end" fill="#303030" textLength="4.23" lengthAdjust="spacingAndGlyphs">6</text>
<text x="317.00" y="290.20" font-size="8.21" text-anchor="end" fill="#303030" textLength="4.23" lengthAdjust="spacingAndGlyphs">1</text>
<line x1="320.60" y1="317.90" x2="320.60" y2="349.60" stroke="#555" stroke-width="0.9"/>
<line x1="318.20" y1="317.90" x2="320.60" y2="317.90" stroke="#555" stroke-width="0.9"/>
<line x1="318.20" y1="349.60" x2="320.60" y2="349.60" stroke="#555" stroke-width="0.9"/>
<text x="317.00" y="321.20" font-size="8.21" text-anchor="end" fill="#303030" textLength="4.23" lengthAdjust="spacingAndGlyphs">1</text>
<text x="317.00" y="352.50" font-size="8.21" text-anchor="end" fill="#303030" textLength="4.23" lengthAdjust="spacingAndGlyphs">5</text>
<circle cx="313.7" cy="390.50" r="1.4" fill="#3b8f4a"/>
<text x="318.60" y="393.60" font-size="8.53" text-anchor="start" fill="#303030" textLength="65.80" lengthAdjust="spacingAndGlyphs">Missense mutation</text>
<polyline points="184.0,384.38 283.9,384.38 283.9,540.30 297,540.30" fill="none" stroke="#5f4d72" stroke-width="1.2"/>
<polygon points="299.8,540.30 289.6,536.10 292.8,540.30 289.6,544.50" fill="#45246a"/>
<rect x="299.7" y="443.20" width="212.30" height="185.70" fill="none" stroke="#574469" stroke-width="1.3"/>
<text x="309.6" y="459.30" font-size="8.7" fill="#303030" stroke="#303030" stroke-width="0" textLength="74.6" lengthAdjust="spacingAndGlyphs"><tspan font-style="italic">IRF4</tspan> (<tspan font-style="italic">P</tspan> = .0173744)</text>
<text x="501.50" y="471.80" font-size="8.75" text-anchor="end" fill="#303030" textLength="85.77" lengthAdjust="spacingAndGlyphs">t(11;14)-Positive RRMM</text>
<text x="501.50" y="481.70" font-size="8.75" text-anchor="end" fill="#303030" textLength="54.97" lengthAdjust="spacingAndGlyphs">(11.4%; n = 44)</text>
<text x="501.50" y="608.20" font-size="8.75" text-anchor="end" fill="#303030" textLength="89.36" lengthAdjust="spacingAndGlyphs">t(11;14)-Negative RRMM</text>
<text x="501.50" y="617.40" font-size="8.75" text-anchor="end" fill="#303030" textLength="54.97" lengthAdjust="spacingAndGlyphs">(1.7%; n = 116)</text>
<line x1="371.42" y1="497.50" x2="371.42" y2="534.30" stroke="#a8a8a8" stroke-width="0.6"/>
<line x1="348.51" y1="522.80" x2="348.51" y2="534.30" stroke="#a8a8a8" stroke-width="0.6"/>
<line x1="371.42" y1="546.30" x2="371.42" y2="564.40" stroke="#a8a8a8" stroke-width="0.6"/>
<rect x="327.40" y="534.10" width="161.40" height="12.60" fill="#709dc9"/>
<rect x="335.90" y="532.70" width="37.60" height="16.20" fill="#5c3a14"/>
<rect x="416.20" y="532.70" width="60.40" height="15.60" fill="#12549a"/>
<text x="356.40" y="543.60" font-size="9.07" text-anchor="middle" fill="#f3e6d6" textLength="13.50" lengthAdjust="spacingAndGlyphs" font-style="italic">IRF</text>
<text x="448.00" y="543.60" font-size="9.07" text-anchor="middle" fill="#d5e2f0" textLength="20.94" lengthAdjust="spacingAndGlyphs" font-style="italic">IRF-3</text>
<text x="501.50" y="555.80" font-size="8.75" text-anchor="end" fill="#303030" textLength="22.52" lengthAdjust="spacingAndGlyphs">451aa</text>
<circle cx="371.42" cy="497.50" r="1.5" fill="#3b8f4a"/>
<text x="353.50" y="492.40" font-size="8.75" text-anchor="start" fill="#303030" textLength="38.41" lengthAdjust="spacingAndGlyphs">Lys123Arg</text>
<circle cx="348.51" cy="522.80" r="1.5" fill="#3b8f4a"/>
<text x="332.70" y="517.10" font-size="8.75" text-anchor="start" fill="#303030" textLength="33.91" lengthAdjust="spacingAndGlyphs">Lys59Arg</text>
<circle cx="371.42" cy="564.40" r="1.5" fill="#3b8f4a"/>
<text x="353.50" y="576.20" font-size="8.75" text-anchor="start" fill="#303030" textLength="38.41" lengthAdjust="spacingAndGlyphs">Lys123Arg</text>
<line x1="320.60" y1="490.40" x2="320.60" y2="522.70" stroke="#555" stroke-width="0.9"/>
<line x1="318.20" y1="490.40" x2="320.60" y2="490.40" stroke="#555" stroke-width="0.9"/>
<line x1="318.20" y1="522.70" x2="320.60" y2="522.70" stroke="#555" stroke-width="0.9"/>
<text x="317.00" y="493.70" font-size="8.21" text-anchor="end" fill="#303030" textLength="4.23" lengthAdjust="spacingAndGlyphs">5</text>
<text x="317.00" y="525.60" font-size="8.21" text-anchor="end" fill="#303030" textLength="4.23" lengthAdjust="spacingAndGlyphs">1</text>
<line x1="320.60" y1="557.30" x2="320.60" y2="590.30" stroke="#555" stroke-width="0.9"/>
<line x1="318.20" y1="557.30" x2="320.60" y2="557.30" stroke="#555" stroke-width="0.9"/>
<line x1="318.20" y1="590.30" x2="320.60" y2="590.30" stroke="#555" stroke-width="0.9"/>
<text x="317.00" y="560.60" font-size="8.21" text-anchor="end" fill="#303030" textLength="4.23" lengthAdjust="spacingAndGlyphs">1</text>
<text x="317.00" y="593.20" font-size="8.21" text-anchor="end" fill="#303030" textLength="4.23" lengthAdjust="spacingAndGlyphs">5</text>
<circle cx="313.7" cy="641.20" r="1.4" fill="#3b8f4a"/>
<text x="318.60" y="644.30" font-size="8.53" text-anchor="start" fill="#303030" textLength="65.80" lengthAdjust="spacingAndGlyphs">Missense mutation</text>
<rect x="0.55" y="0.55" width="518.9" height="756.9" fill="none" stroke="#2e2e2e" stroke-width="1.1"/>
</svg>
</body></html>
